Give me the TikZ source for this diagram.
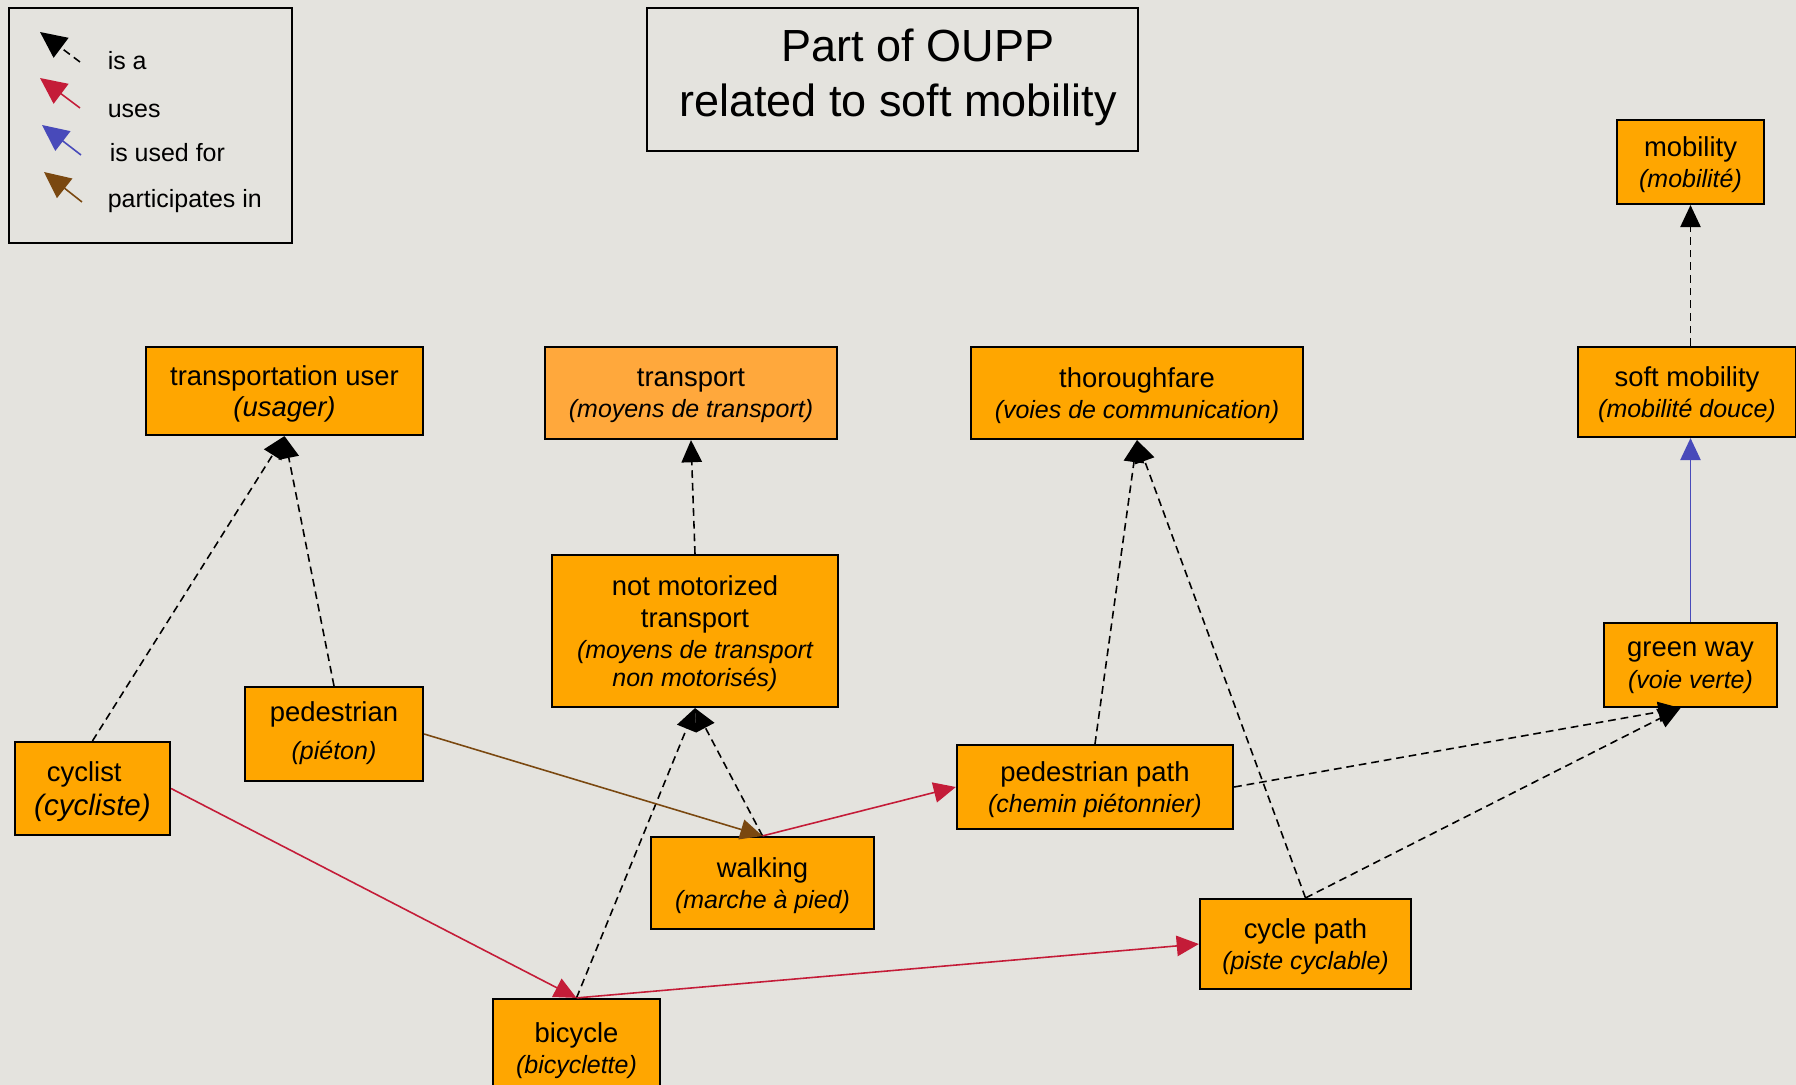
\documentclass[tikz,border=0pt]{standalone}
\usepackage{fontspec}
\setmainfont{Liberation Sans}
\usetikzlibrary{arrows.meta, positioning}
\definecolor{paper}{RGB}{228,227,222}
\definecolor{conceptfill}{RGB}{255,166,0}
\definecolor{transportfill}{RGB}{255,168,60}
\definecolor{usesred}{RGB}{196,28,56}
\definecolor{usedforblue}{RGB}{72,74,186}
\definecolor{partbrown}{RGB}{122,72,16}
\tikzstyle{isa} = [draw=black, dash pattern=on 2.2pt off 1.4pt, -{Triangle[length=6.3pt,width=5.8pt]}]
\tikzstyle{uses} = [draw=usesred, -{Triangle[length=6.3pt,width=5.8pt]}]
\tikzstyle{usedfor} = [draw=usedforblue, -{Triangle[length=6.3pt,width=5.8pt]}]
\tikzstyle{partin} = [draw=partbrown, -{Triangle[length=6.3pt,width=5.8pt]}]
\newcommand{\frenchfont}{\fontsize{7.1}{9}\selectfont\itshape}
\newcommand{\frenchname}[1]{{\frenchfont(#1)}}

\begin{document}
\begin{tikzpicture}[x=0.01cm, y=-0.01cm,
          line width=0.45pt, % edge width
          font=\fontsize{7.8}{9}\selectfont
      ]

      \tikzstyle{concept}=[
          draw = black,
          line width = 0.6pt,
          fill = conceptfill,
          inner sep = 0pt,
          align = center,
          text depth = -2.6pt % sits the text a little lower in its box
      ]
      \tikzstyle{frame}=[draw = black, line width = 0.7pt, inner sep = 0pt]
      \tikzstyle{legendtext}=[anchor = base west, inner sep = 0pt, font = \fontsize{7.1}{8}\selectfont]
      \tikzstyle{legendarrow}=[arrows = {-Triangle[length=7.5pt,width=7pt]}]

  \useasboundingbox[fill=paper] (0,0) rectangle (1796,1085);
  \clip (0,0) rectangle (1796,1085);

  % Legend and title
  \node[frame, minimum width=2.83cm, minimum height=2.35cm] (legend) at (150.5,125.5) {};
  \coordinate (isaTip) at (40,32);   \coordinate (isaTail) at (80,62);
  \coordinate (usesTip) at (40,78);  \coordinate (usesTail) at (80,108);
  \coordinate (forTip) at (42,125);  \coordinate (forTail) at (81,155);
  \coordinate (partTip) at (44,172); \coordinate (partTail) at (82,202);
  \node[legendtext] (isaText) at (107,70) {is a};
  \node[legendtext] (usesText) at (107,118) {uses};
  \node[legendtext] (forText) at (109,162) {is used for};
  \node[legendtext] (partText) at (107,208) {participates in};

  \node[frame, minimum width=4.91cm, minimum height=1.43cm] (title) at (892.5,79.5) {};
  \node[anchor=base, inner sep=0pt, font=\fontsize{12.8}{14}\selectfont] (titleTop) at (918,62) {Part of OUPP};
  \node[anchor=base, inner sep=0pt, font=\fontsize{12.8}{14}\selectfont] (titleBottom) at (898,117) {related to soft mobility};

  % Draw the concepts.
  \node[concept, minimum width=2.77cm, minimum height=0.88cm] (tuser) at (284.5,391)
      {transportation user\\{\itshape(usager)}};
  \node[concept, fill=transportfill, minimum width=2.92cm, minimum height=0.92cm] (transport) at (691,393)
      {transport\\\frenchname{moyens de transport}};
  \node[concept, minimum width=3.32cm, minimum height=0.92cm] (thoroughfare) at (1137,393)
      {thoroughfare\\\frenchname{voies de communication}};
  \node[concept, minimum width=2.18cm, minimum height=0.90cm] (softmob) at (1687,392)
      {soft mobility\\\frenchname{mobilité douce}};
  \node[concept, minimum width=1.47cm, minimum height=0.84cm] (mobility) at (1690.5,162)
      {mobility\\\frenchname{mobilité}};

  \node[concept, minimum width=2.86cm, minimum height=1.52cm] (notmot) at (695,631)
      {not motorized\\transport\\{\frenchfont(moyens de transport}\\[-1.2pt]{\frenchfont non motorisés)}};
  \node[concept, text depth=1.9pt, minimum width=1.78cm, minimum height=0.94cm] (pedestrian) at (334,734)
      {pedestrian\\[2pt]\frenchname{piéton}};
  \node[concept, minimum width=1.55cm, minimum height=0.93cm] (cyclist) at (92.5,788.5)
      {cyclist\hspace*{0.6em}\\[0.8pt]{\fontsize{8.4}{9}\selectfont\itshape(cycliste)}};
  \node[concept, minimum width=1.73cm, minimum height=0.84cm] (greenway) at (1690.5,665)
      {green way\\\frenchname{voie verte}};
  \node[concept, minimum width=2.76cm, minimum height=0.84cm] (pedpath) at (1095,787)
      {pedestrian path\\\frenchname{chemin piétonnier}};

  \node[concept, minimum width=2.23cm, minimum height=0.92cm] (walking) at (762.5,883)
      {walking\\\frenchname{marche à pied}};
  \node[concept, minimum width=2.11cm, minimum height=0.90cm] (cyclepath) at (1305.5,944)
      {cycle path\\\frenchname{piste cyclable}};
  \node[concept, minimum width=1.67cm, minimum height=0.98cm] (bicycle) at (576.5,1048)
      {bicycle\\\frenchname{bicyclette}};

  % Connect concepts with edges
  \path (isaTail) edge[isa, legendarrow] (isaTip);
  \path (usesTail) edge[uses, legendarrow] (usesTip);
  \path (forTail) edge[usedfor, legendarrow] (forTip);
  \path (partTail) edge[partin, legendarrow] (partTip);

  \path (cyclist.north) edge[isa] (tuser.south);
  \path (pedestrian.north) edge[isa] (tuser.south);
  \path (notmot.north) edge[isa] (transport.south);
  \path (walking.north) edge[isa] (notmot.south);
  \path (bicycle.north) edge[isa] (notmot.south);
  \path (pedpath.north) edge[isa] (thoroughfare.south);
  \path (cyclepath.north) edge[isa] (thoroughfare.south);
  \path (pedpath.east) edge[isa] ([xshift=-0.1cm]greenway.south);
  \path (cyclepath.north) edge[isa] ([xshift=-0.1cm]greenway.south);
  \path (softmob.north -| mobility.south) edge[isa] (mobility.south);

  \path (greenway.north) edge[usedfor] (greenway.north |- softmob.south);

  \path (pedestrian.east) edge[partin] (walking.north);
  \path (walking.north) edge[uses] (pedpath.west);
  \path (cyclist.east) edge[uses] (bicycle.north);
  \path (bicycle.north) edge[uses] (cyclepath.west);
\end{tikzpicture}
\end{document}
